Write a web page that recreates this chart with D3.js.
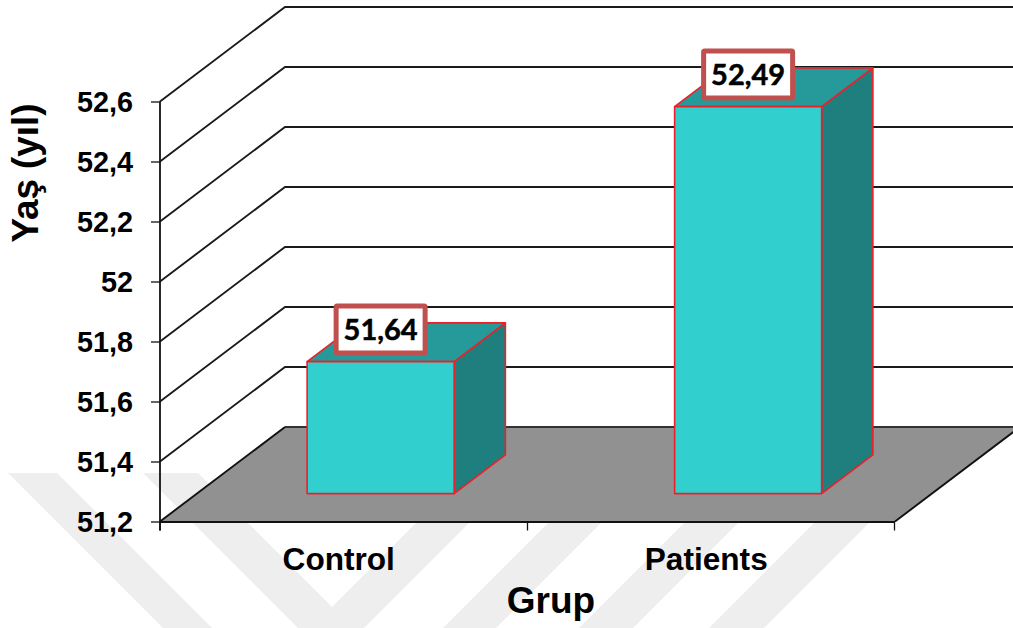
<!DOCTYPE html>
<html>
<head>
<meta charset="utf-8">
<script src="https://cdn.jsdelivr.net/npm/d3@7/dist/d3.min.js"></script>
<style>
  html, body { margin: 0; padding: 0; background: #fff; }
  svg { display: block; }
  text { font-family: "Liberation Sans", Arial, sans-serif; font-weight: 700; fill: #000; }
  .value-label { font-family: Lato, "Noto Sans", sans-serif; stroke: #000; stroke-width: 0.5px; }
</style>
</head>
<body>
<svg id="chart" width="1013" height="628"></svg>
<script>
const categories = ["Control", "Patients"];
const groupMeans = [51.64, 52.49];
const groupLabels = ["51,64", "52,49"];
const yTicks = [51.2, 51.4, 51.6, 51.8, 52, 52.2, 52.4, 52.6];
const yTitle = "Yaş (yıl)";
const xTitle = "Grup";

const width = 1013, height = 628;
// Oblique projection of the 3D box: offset of the full chart depth.
const depthX = 125, depthY = 94.5;
const barDepthStart = 0.295, barDepthEnd = 0.705;

const svg = d3.select("#chart");
const x = d3.scaleBand().domain(categories).range([160, 895]).paddingInner(0.6).paddingOuter(0.3);
const y = d3.scaleLinear().domain([51.2, 52.6]).range([521.5, 101.5]);

const path = d3.line();
const at = (px, py, d) => [px + depthX * d, py - depthY * d];
const x0 = x.range()[0], x1 = x.range()[1], yBase = y.domain()[0];

// Faint chevron backdrop, limited to the lower part of the page.
svg.append("defs").append("clipPath").attr("id", "backdrop-clip")
  .append("rect").attr("x", 0).attr("y", 473).attr("width", width).attr("height", height - 473);
const backdrop = svg.append("g").attr("clip-path", "url(#backdrop-clip)").attr("fill", "#eeeeee");
const bandAt = (left, right, dir) => {
  const reach = 260;
  return path([[left, 473], [right, 473], [right + dir * reach, 473 + reach], [left + dir * reach, 473 + reach]]) + "Z";
};
const downBands = [[8, 57], [143, 198]];
const upBands = [[466, 519], [598, 651], [734, 788], [864, 919]];
backdrop.selectAll("path.down").data(downBands).join("path").attr("class", "down")
  .attr("d", d => bandAt(d[0], d[1], 1));
backdrop.selectAll("path.up").data(upBands).join("path").attr("class", "up")
  .attr("d", d => bandAt(d[0], d[1], -1));

// Side-wall and back-wall gridlines.
svg.append("g").selectAll("path").data(yTicks.slice(1)).join("path")
  .attr("d", v => path([[x0, y(v)], at(x0, y(v), 1), [width + 5, y(v) - depthY]]))
  .attr("fill", "none").attr("stroke", "#1a1a1a").attr("stroke-width", 1.9);

// Floor of the chart box.
svg.append("path")
  .attr("d", path([[x0, y(yBase)], at(x0, y(yBase), 1), at(x1, y(yBase), 1), [x1, y(yBase)]]) + "Z")
  .attr("fill", "#919191").attr("stroke", "none");
svg.append("path")
  .attr("d", path([[x1, y(yBase)], at(x1, y(yBase), 1)]))
  .attr("stroke", "#111").attr("stroke-width", 1.9).attr("fill", "none");
svg.append("path")
  .attr("d", path([at(x0, y(yBase), 1), [width + 5, y(yBase) - depthY]]))
  .attr("stroke", "#333").attr("stroke-width", 1.9).attr("fill", "none");
svg.append("path")
  .attr("d", path([[x0, y(yBase)], at(x0, y(yBase), 1)]))
  .attr("stroke", "#111").attr("stroke-width", 1.9).attr("fill", "none");

// Axes.
const yAxis = d3.axisLeft(y).tickValues(yTicks)
  .tickFormat(v => String(v).replace(".", ",")).tickSize(9).tickPadding(18);
const gy = svg.append("g").attr("transform", `translate(${x0},0)`).call(yAxis);
gy.select(".domain").attr("d", `M0,${y(52.6)}V${y(51.2) + 9}`).attr("stroke", "#111").attr("stroke-width", 1.8);
gy.selectAll(".tick line").attr("stroke", "#111").attr("stroke-width", 1.3);
gy.selectAll(".tick text").style("font-size", "28.8px").attr("dy", "0.36em").attr("fill", "#000");

const xTickPositions = [x0, (x0 + x1) / 2, x1 - 0.5];
svg.append("path").attr("d", path([[x0, y(yBase) + 0.5], [x1, y(yBase) + 0.5]]))
  .attr("stroke", "#111").attr("stroke-width", 2).attr("fill", "none");
svg.append("g").selectAll("line").data(xTickPositions).join("line")
  .attr("x1", d => d).attr("x2", d => d)
  .attr("y1", y(yBase)).attr("y2", y(yBase) + 9)
  .attr("stroke", "#111").attr("stroke-width", 1.3);

// Category names.
svg.append("g").selectAll("text").data(categories).join("text")
  .attr("x", d => x(d) + x.bandwidth() / 2 - 5)
  .attr("y", 570)
  .attr("text-anchor", "middle")
  .style("font-size", "31.6px")
  .text(d => d);

// Axis titles.
svg.append("text").attr("x", 551).attr("y", 613).attr("text-anchor", "middle")
  .style("font-size", "37px").text(xTitle);
svg.append("text").attr("transform", "translate(38,173) rotate(-90)").attr("text-anchor", "middle")
  .style("font-size", "36.8px").text(yTitle);

// Bars: side, top and front faces.
const bars = svg.append("g").selectAll("g").data(categories).join("g");
const edge = { stroke: "#ee2027", "stroke-width": 1.6, "stroke-linejoin": "round" };
const face = (sel, fill, pts) => {
  const p = sel.append("path").attr("d", pts).attr("fill", fill);
  Object.entries(edge).forEach(([k, v]) => p.attr(k, v));
};
bars.each(function (c, i) {
  const g = d3.select(this);
  const left = x(c), right = left + x.bandwidth();
  const top = y(groupMeans[i]), base = y(yBase);
  face(g, "#1f7e7e", path([at(right, top, barDepthStart), at(right, top, barDepthEnd), at(right, base, barDepthEnd), at(right, base, barDepthStart)]) + "Z");
  face(g, "#269a9a", path([at(left, top, barDepthStart), at(left, top, barDepthEnd), at(right, top, barDepthEnd), at(right, top, barDepthStart)]) + "Z");
  face(g, "#32cfcf", path([at(left, top, barDepthStart), at(right, top, barDepthStart), at(right, base, barDepthStart), at(left, base, barDepthStart)]) + "Z");

  // Boxed value label above the front face.
  const [fx, fy] = at((left + right) / 2, top, barDepthStart);
  const lg = g.append("g").attr("transform", `translate(${fx},${fy - 32})`);
  lg.append("rect").attr("x", -44.5).attr("y", -23.5).attr("width", 89).attr("height", 47)
    .attr("fill", "#fff").attr("stroke", "#c0504d").attr("stroke-width", 5).attr("rx", 1);
  lg.append("text").attr("class", "value-label").attr("text-anchor", "middle").attr("y", 10.5)
    .style("font-size", "29px").text(groupLabels[i]);
});
</script>
</body>
</html>
